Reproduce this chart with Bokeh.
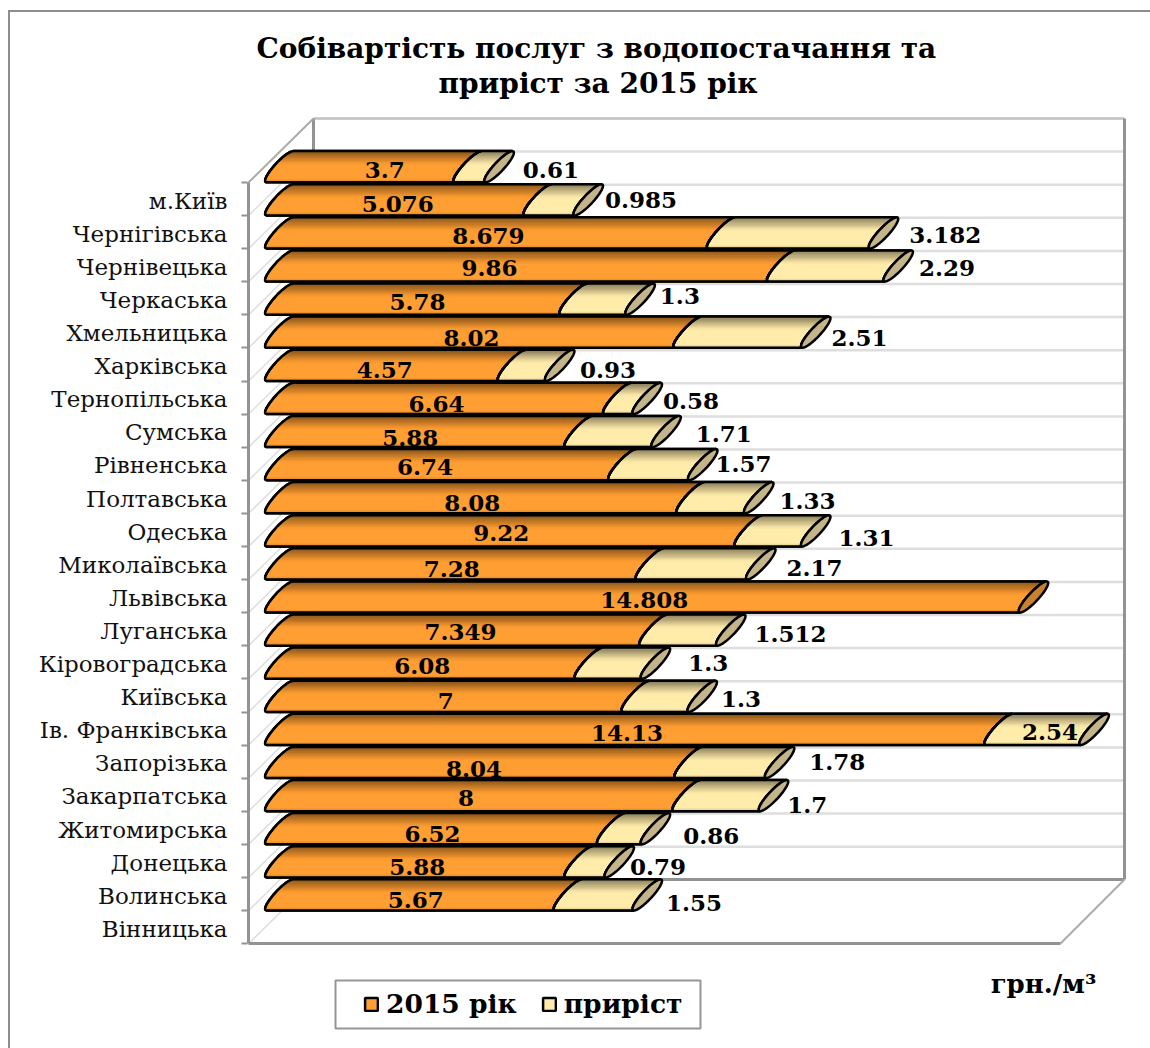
import math
from bokeh.plotting import figure
from bokeh.embed import file_html
from bokeh.resources import INLINE
from bokeh.core.properties import value
from bokeh.models import (Range1d, LinearAxis, FixedTicker, BoxAnnotation, Legend, LegendItem,
                          Title, ColumnDataSource)

# ---- data ----
regions = ["м.Київ", "Чернігівська", "Чернівецька", "Черкаська", "Хмельницька", "Харківська",
           "Тернопільська", "Сумська", "Рівненська", "Полтавська", "Одеська", "Миколаївська",
           "Львівська", "Луганська", "Кіровоградська", "Київська", "Ів. Франківська", "Запорізька",
           "Закарпатська", "Житомирська", "Донецька", "Волинська", "Вінницька"]
cost_2015 = [3.7, 5.076, 8.679, 9.86, 5.78, 8.02, 4.57, 6.64, 5.88, 6.74, 8.08, 9.22, 7.28, 14.808,
             7.349, 6.08, 7, 14.13, 8.04, 8, 6.52, 5.88, 5.67]
growth = [0.61, 0.985, 3.182, 2.29, 1.3, 2.51, 0.93, 0.58, 1.71, 1.57, 1.33, 1.31, 2.17, None,
          1.512, 1.3, 1.3, 2.54, 1.78, 1.7, 0.86, 0.79, 1.55]
axis_max = 16  # the value axis stops at 16, so longer stacks are cut there
title_lines = ["Собівартість послуг  з водопостачання та", "приріст за 2015 рік"]
series_names = ["2015 рік", "приріст"]
unit_label = "грн./м³"

# ---- manual label nudges of the original chart, in screen pixels ----
base_dx = [11, -11, -12, -41, -9, -12, -11, -12, -19, -26, -13, -13, -13, -12, -6, -12, -12, -12,
           -10, -17, -13, -12, -8]
base_dy = [3.5, 5, 4, 3, 4, 6, 5, 6, 7, 3, 5.5, 2.5, 6, 4, 3, 3, 5, 4, 7, 3, 5.5, 5.5, 6]
grow_dx = [65, 66, 75, 62, 53, 57, 61.5, 57, 71, 54, 62, 64, 67, 0, 73, 66, 52, -31, 71, 47, 69, 52, 60]
grow_dy = [3.5, 0.5, 3, 3, -2, 6, 5, 3, 3, 0, 3.5, 8, 5, 0, 5, 0, 3, 3, 0, 10.5, 7.5, 5.5, 9]

# ---- layout ----
LEFT, TOP = 10, 12               # where the chart's frame starts in the picture
FIG_W, FIG_H = 1140, 1036
FRAME_L, FRAME_T = 246, 108
X0, PX_PER_UNIT = 266, 50.9      # picture px of value 0 at the bars' front edge
Y0, PX_PER_ROW = 198.5, 33.1     # picture px of the first category row
BAR_R, SHEAR, CAP_W = 15.6, 0.85, 6.5
BAR_LIFT = 32.3
ORANGE, CREAM = "#FF9E33", "#FFEBAA"
ORANGE_CAP, CREAM_CAP = "#C9812C", "#C4B48A"
WALL, GRID, FLOOR, CEIL = "#939393", "#DEDEDE", "#ABABAB", "#C4C4C4"
FONT = "DejaVu Serif"


def vx(px):
    return (px - X0) / PX_PER_UNIT


def vy(px):
    return (px - Y0) / PX_PER_ROW


def dx(px):
    return px / PX_PER_UNIT


def dy(px):
    return px / PX_PER_ROW


def mix(hex_color, k):
    rgb = [int(hex_color[i:i + 2], 16) for i in (1, 3, 5)]
    return "#%02X%02X%02X" % tuple(int(c * (1 - k)) for c in rgb)


p = figure(width=FIG_W, height=FIG_H, output_backend="svg", toolbar_location=None,
           x_range=Range1d(vx(FRAME_L), vx(LEFT + FIG_W)),
           y_range=Range1d(vy(TOP + FIG_H), vy(FRAME_T)),
           x_axis_location=None, y_axis_location=None,
           min_border_left=FRAME_L - LEFT, min_border_right=0,
           min_border_top=FRAME_T - TOP, min_border_bottom=0,
           outline_line_color=None, background_fill_color="white", border_fill_color="white")
p.margin = (TOP, 0, 0, LEFT)
p.styles = {"outline": "2px solid #8E8E8E"}
p.grid.visible = False

# title
p.add_layout(Title(text=title_lines[1], align="left", offset=192, standoff=17, text_font=FONT,
                   text_font_style="bold", text_font_size="28px", text_color="black"), "above")
p.add_layout(Title(text=title_lines[0], align="left", offset=10, standoff=-16, text_font=FONT,
                   text_font_style="bold", text_font_size="28px", text_color="black"), "above")

# category axis
n = len(regions)
LABEL_SHIFT = 0.05
label_ticks = [i + LABEL_SHIFT for i in range(n)]
axis = LinearAxis(ticker=FixedTicker(ticks=label_ticks, minor_ticks=[i - 0.5 for i in range(n + 1)]),
                  major_label_overrides={label_ticks[i]: regions[i] for i in range(n)},
                  major_label_text_font=FONT, major_label_text_font_size="23px",
                  major_label_text_color="#111111", major_label_standoff=14,
                  major_tick_line_color=None, major_tick_in=0, major_tick_out=0,
                  minor_tick_line_color=WALL, minor_tick_line_width=2, minor_tick_in=1, minor_tick_out=5,
                  axis_line_color=None)
p.add_layout(axis, "left")

# 3-D box: back wall, side wall, floor
FL, FR, BL, BR = 248, 1060, 313, 1124
BT, BB, FT, FB = 118, 879, 182, 943
grid_rows = list(range(n + 1))
p.segment([vx(BL)] * len(grid_rows), [vy(BT + k * PX_PER_ROW) for k in grid_rows],
          [vx(BR)] * len(grid_rows), [vy(BT + k * PX_PER_ROW) for k in grid_rows],
          line_color=GRID, line_width=2.5)
p.segment([vx(FL)] * len(grid_rows), [vy(FT + k * PX_PER_ROW) for k in grid_rows],
          [vx(BL)] * len(grid_rows), [vy(BT + k * PX_PER_ROW) for k in grid_rows],
          line_color=GRID, line_width=1.5)
p.segment([vx(BL)], [vy(BT)], [vx(BR)], [vy(BT)], line_color=CEIL, line_width=2.5)
p.segment([vx(BR), vx(BL), vx(BL)], [vy(BT), vy(BB), vy(BT)],
          [vx(BR), vx(BR), vx(BL)], [vy(BB), vy(BB), vy(BB)], line_color=WALL, line_width=3)
p.segment([vx(FL), vx(FR)], [vy(FT), vy(FB)], [vx(BL), vx(BR)], [vy(BT), vy(BB)],
          line_color=FLOOR, line_width=2)
p.segment([vx(FL), vx(FL)], [vy(FT), vy(FB)], [vx(FL), vx(FR)], [vy(FB), vy(FB)],
          line_color=WALL, line_width=3)


# cylinders -------------------------------------------------------------------
def edge(value_x, row, t1, t2, steps=10):
    """Points of a cylinder's left-facing rim between angles t1 and t2 (radians)."""
    cx = value_x + dx(SHEAR * BAR_R)
    cy = row - dy(BAR_LIFT)
    xs, ys = [], []
    for j in range(steps + 1):
        t = t1 + (t2 - t1) * j / steps
        xs.append(cx + dx(SHEAR * BAR_R * math.sin(t) + CAP_W * math.cos(t)))
        ys.append(cy - dy(BAR_R * math.sin(t)))
    return xs, ys


def band(a, b, row, t1, t2):
    xa, ya = edge(a, row, t1, t2)
    xb, yb = edge(b, row, t1, t2)
    return xa + xb[::-1], ya + yb[::-1]


def frac_angle(f):
    return math.pi - math.asin(1 - 2 * f)


segments = {"base": [], "grow": []}
for i in range(n):
    b = min(cost_2015[i], axis_max)
    segments["base"].append((0, b, i))
    if growth[i] is not None:
        segments["grow"].append((b, min(cost_2015[i] + growth[i], axis_max), i))

SHADE_STEPS = 12
SHADE_DEPTH = 0.42
R_SHADES = [(SHADE_DEPTH * j / SHADE_STEPS, SHADE_DEPTH * (j + 1) / SHADE_STEPS,
             0.5 * (1 - (j + 0.5) / SHADE_STEPS)) for j in range(SHADE_STEPS)]
R_SHADES += [(0.92, 0.96, 0.06), (0.96, 1.00, 0.14)]
T_TOP, T_BOT = math.pi / 2, 3 * math.pi / 2

renderers = {}
for key, color in (("base", ORANGE), ("grow", CREAM)):
    xs, ys = [], []
    for a, e, row in segments[key]:
        x, y = band(a, e, row, T_TOP, T_BOT)
        xs.append(x)
        ys.append(y)
    renderers[key] = p.patches(xs, ys, fill_color=color, line_color="black", line_width=2.5)
    for f1, f2, shade in R_SHADES:
        xs, ys = [], []
        for a, e, row in segments[key]:
            x, y = band(a, e, row, frac_angle(f1), frac_angle(f2))
            xs.append(x)
            ys.append(y)
        c = mix(color, shade)
        p.patches(xs, ys, fill_color=c, line_color=c, line_width=0.6)

# outlines over the shading
olx, oly = [], []
for key in ("base", "grow"):
    for a, e, row in segments[key]:
        x, y = edge(a, row, T_TOP, T_BOT)
        xe, ye = edge(e, row, T_TOP, T_BOT)
        olx.append(x + xe[::-1] + x[:1])
        oly.append(y + ye[::-1] + y[:1])
p.multi_line(olx, oly, line_color="black", line_width=2.5)

# end faces
ends = [(min(cost_2015[i] + (growth[i] or 0), axis_max), i, growth[i] is not None) for i in range(n)]
fx, fy, fc = [], [], []
for e, row, has_growth in ends:
    x, y = edge(e, row, 0, 2 * math.pi, 36)
    fx.append(x)
    fy.append(y)
    fc.append(CREAM_CAP if has_growth else ORANGE_CAP)
p.patches(fx, fy, fill_color=fc, line_color="black", line_width=2.5)

# value labels
base_src = ColumnDataSource(dict(
    x=[v / 2 + dx(13) for v in cost_2015],
    y=[i - dy(33) for i in range(n)],
    t=[str(v) for v in cost_2015], xo=base_dx, yo=base_dy))
p.text("x", "y", text="t", source=base_src, x_offset="xo", y_offset="yo", text_align="center",
       text_baseline="middle", text_font=value(FONT), text_font_style="bold", text_font_size="23px",
       text_color="black")
gi = [i for i in range(n) if growth[i] is not None]
grow_src = ColumnDataSource(dict(
    x=[min(cost_2015[i] + growth[i], axis_max) for i in gi],
    y=[i - dy(33) for i in gi],
    t=[str(growth[i]) for i in gi], xo=[grow_dx[i] for i in gi], yo=[grow_dy[i] for i in gi]))
p.text("x", "y", text="t", source=grow_src, x_offset="xo", y_offset="yo", text_align="center",
       text_baseline="middle", text_font=value(FONT), text_font_style="bold", text_font_size="23px",
       text_color="black")

# unit
p.text([vx(1043)], [vy(983)], text=[unit_label], text_align="center", text_baseline="middle",
       text_font=value(FONT), text_font_style="bold", text_font_size="26px", text_color="black")

# legend
p.add_layout(BoxAnnotation(left=vx(335), right=vx(700), top=vy(980), bottom=vy(1028), fill_color="white",
                           fill_alpha=1, line_color="#969696", line_alpha=1, line_width=2, level="overlay"))
legend = Legend(items=[LegendItem(label=series_names[0], renderers=[renderers["base"]]),
                       LegendItem(label=series_names[1], renderers=[renderers["grow"]])],
                orientation="horizontal", location=(363 - FRAME_L, (TOP + FIG_H) - 1019),
                padding=0, margin=0, spacing=24, glyph_width=16, glyph_height=16, label_standoff=7,
                label_text_font=FONT, label_text_font_style="bold", label_text_font_size="26.5px",
                label_text_color="black", border_line_color=None, background_fill_alpha=0)
p.add_layout(legend, "center")

open("out.html", "w").write(file_html(p, INLINE))
